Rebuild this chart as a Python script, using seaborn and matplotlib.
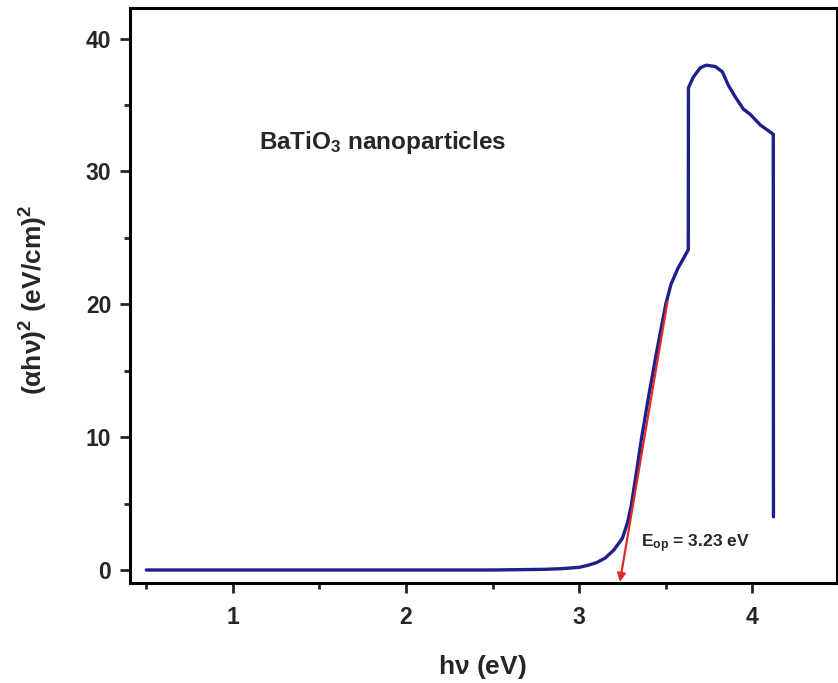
import numpy as np
import pandas as pd
import matplotlib
matplotlib.use("Agg")
import matplotlib.pyplot as plt
import seaborn as sns

# ── DATA ──────────────────────────────────────────────────────
photon_energy = [0.5, 1.0, 1.5, 2.0, 2.5, 2.8, 2.9, 3.0, 3.05, 3.1, 3.15,
                 3.2, 3.25, 3.28, 3.3, 3.33, 3.36, 3.4, 3.45, 3.5, 3.53,
                 3.57, 3.6, 3.63, 3.631, 3.659, 3.699, 3.734, 3.786, 3.827,
                 3.861, 3.902, 3.948, 3.988, 4.046, 4.121, 4.122]
absorption_sq = [0.0, 0.0, 0.0, 0.0, 0.0, 0.05, 0.1, 0.2, 0.35, 0.55, 0.9,
                 1.5, 2.4, 3.6, 4.8, 7.3, 9.9, 13.0, 16.6, 20.0, 21.5,
                 22.7, 23.4, 24.1, 36.3, 37.1, 37.8, 38.0, 37.9, 37.5,
                 36.5, 35.6, 34.7, 34.3, 33.5, 32.8, 4.0]

tangent_start = (3.51, 20.2)
tangent_end = (3.235, -0.9)
band_gap_label = r"E$_{\mathbf{op}}$ = 3.23 eV"
sample_label = r"BaTiO$_{\mathbf{3}}$ nanoparticles"

df = pd.DataFrame({"hv": photon_energy, "ahv2": absorption_sq})

# ── STYLE ─────────────────────────────────────────────────────
sns.set_theme(style="white")
plt.rcParams["font.family"] = ["Liberation Sans", "DejaVu Sans"]
plt.rcParams["font.weight"] = "bold"
plt.rcParams["mathtext.fontset"] = "custom"
plt.rcParams["mathtext.rm"] = "Liberation Sans"
plt.rcParams["mathtext.bf"] = "Liberation Sans:bold"
plt.rcParams["mathtext.it"] = "Liberation Sans:bold"

fig = plt.figure(figsize=(8.38, 6.83), dpi=100)
ax = fig.add_axes([0.155, 0.1464, 0.844, 0.8418])

sns.lineplot(data=df, x="hv", y="ahv2", sort=False, estimator=None,
             color="#1f1f8c", linewidth=2.4, ax=ax)

# tangent extrapolated down to the energy axis
ax.annotate("", xy=tangent_end, xytext=tangent_start,
            arrowprops=dict(arrowstyle="-|>", color="#e02a2a", lw=1.6,
                            mutation_scale=12, shrinkA=0, shrinkB=0))

ax.text(1.15, 32.2, sample_label, fontsize=17.5, fontweight="bold",
        va="center", ha="left")
ax.text(3.355, 1.7, band_gap_label, fontsize=12.5, fontweight="bold",
        va="baseline", ha="left")

ax.set_xlim(0.405, 4.49)
ax.set_ylim(-0.98, 42.3)
ax.set_xticks([1, 2, 3, 4])
ax.set_xticks([0.5, 1.5, 2.5, 3.5], minor=True)
ax.set_yticks([0, 10, 20, 30, 40])
ax.set_yticks([5, 15, 25, 35], minor=True)

ax.tick_params(axis="both", which="major", direction="out", length=7.5,
               width=2, labelsize=16.5, bottom=True, left=True)
ax.tick_params(axis="both", which="minor", direction="out", length=4,
               width=2, bottom=True, left=True)
ax.tick_params(axis="x", which="major", pad=9)
ax.tick_params(axis="y", which="major", pad=6)
for lab in ax.get_xticklabels() + ax.get_yticklabels():
    lab.set_fontweight("bold")

for side in ["left", "bottom", "top", "right"]:
    ax.spines[side].set_linewidth(2.2)
    ax.spines[side].set_color("black")

ax.set_xlabel(r"h$\mathregular{\nu}$ (eV)", fontsize=19, fontweight="bold")
ax.set_ylabel(r"($\mathregular{\alpha h\nu}$)$^\mathbf{2}$ (eV/cm)$^\mathbf{2}$",
              fontsize=19, fontweight="bold")
ax.xaxis.set_label_coords(0.499, -0.122)
ax.yaxis.set_label_coords(-0.113, 0.492)

plt.savefig("out.png", dpi=100)
